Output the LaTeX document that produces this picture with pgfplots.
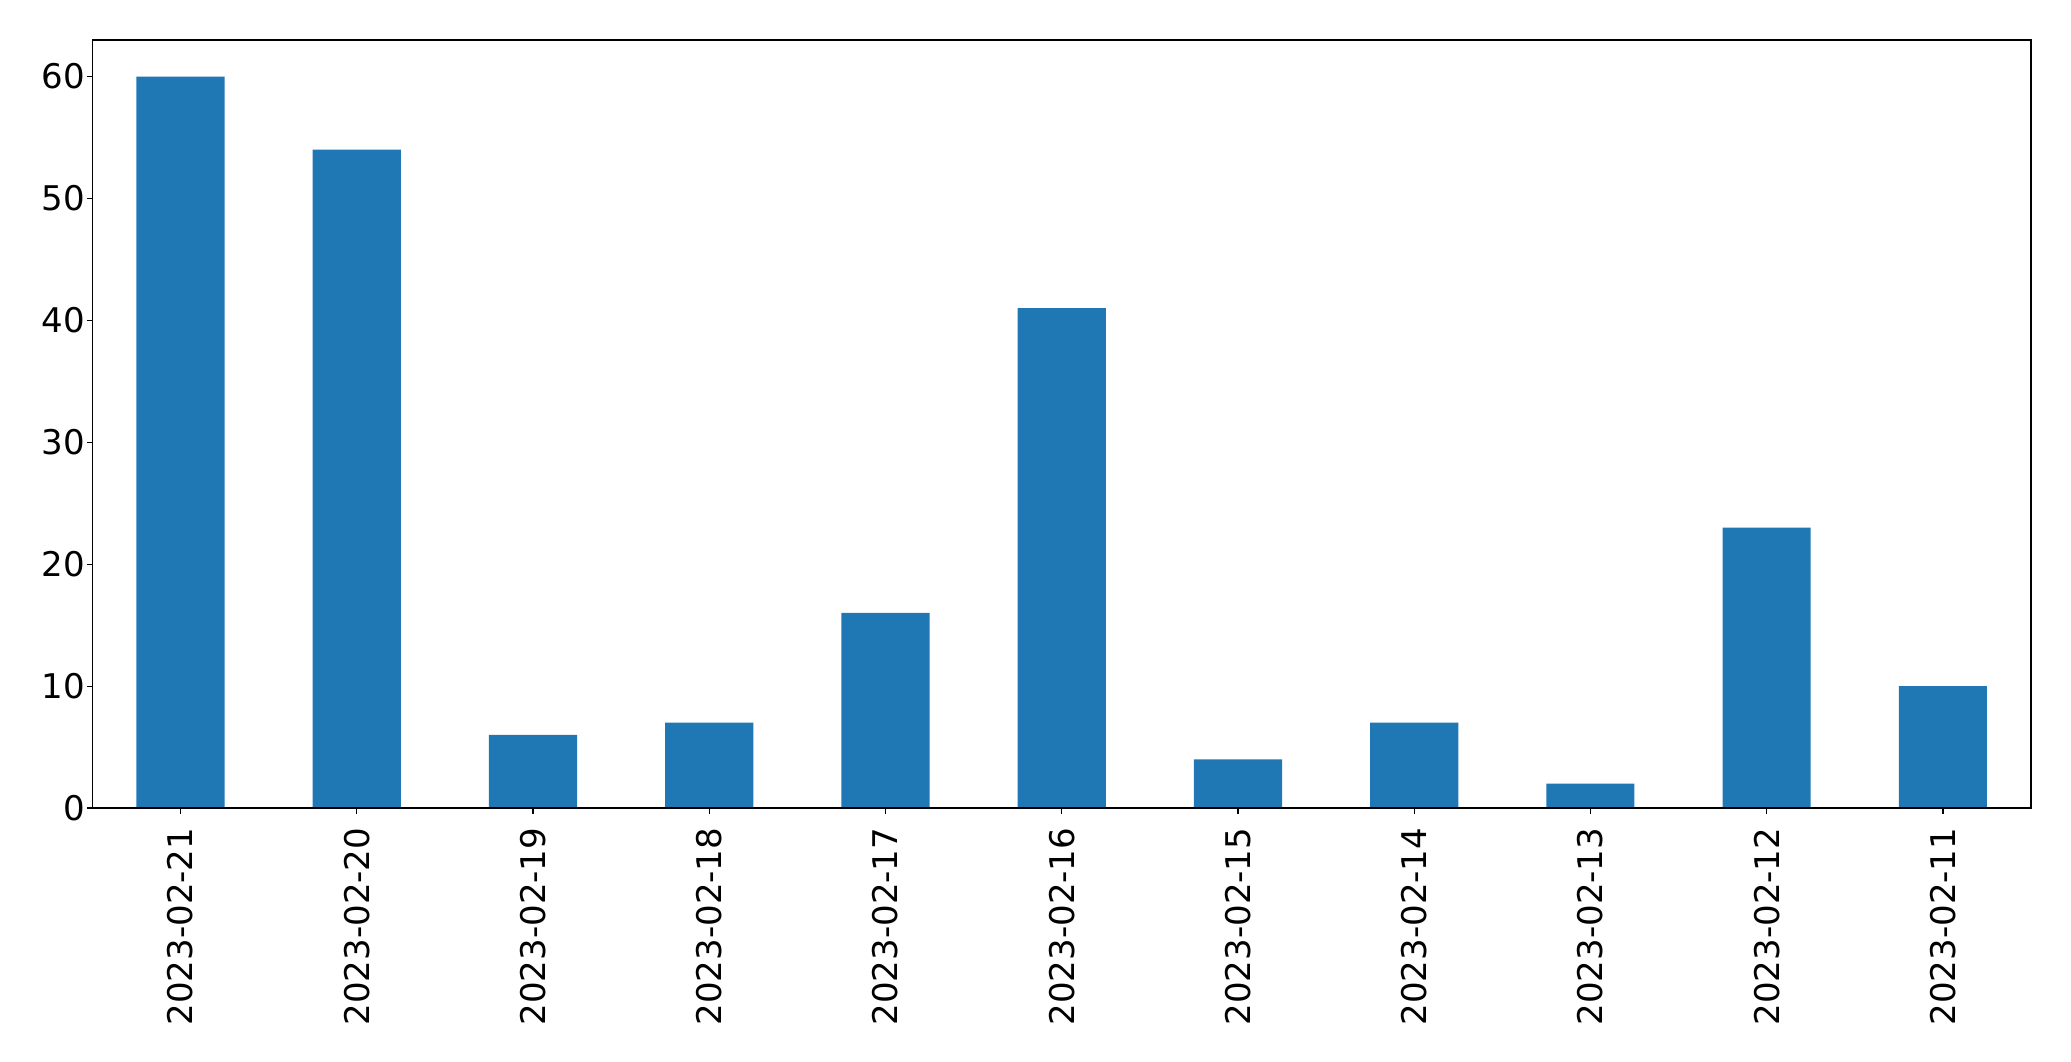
\documentclass[border=0pt]{standalone}
\usepackage{fontspec}
\setmainfont{DejaVu Sans}
\usepackage{pgfplots}
\pgfplotsset{compat=1.18}
\definecolor{mplblue}{HTML}{1F77B4}
\begin{document}
\begin{tikzpicture}
\begin{axis}[
  scale only axis,
  width=484.6pt, height=192pt,
  xmin=-0.5, xmax=10.5, ymin=0, ymax=63,
  ytick={0,10,20,30,40,50,60},
  xtick={0,1,2,3,4,5,6,7,8,9,10},
  xticklabels={2023-02-21,2023-02-20,2023-02-19,2023-02-18,2023-02-17,2023-02-16,2023-02-15,2023-02-14,2023-02-13,2023-02-12,2023-02-11},
  x tick label style={rotate=90, anchor=east, font=\fontsize{8.5}{10}\selectfont},
  y tick label style={font=\fontsize{8.5}{10}\selectfont, xshift=3pt},
  /pgf/number format/assume math mode=true,
  tick align=outside,
  major tick length=1.4pt,
  tick style={black, line width=0.3pt},
  axis line style={line width=0.33pt},
  xtick pos=bottom, ytick pos=left,
  axis on top,
]
\addplot[ybar, bar width=0.5, fill=mplblue, draw=none] coordinates {
(0,60) (1,54) (2,6) (3,7) (4,16) (5,41) (6,4) (7,7) (8,2) (9,23) (10,10)
};
\end{axis}
\path (current axis.south west) ++(-23.1pt,-63.25pt) coordinate (bbA);
\path (current axis.north east) ++(10pt,10pt) coordinate (bbB);
\path (bbA) rectangle (bbB);
\end{tikzpicture}
\end{document}
